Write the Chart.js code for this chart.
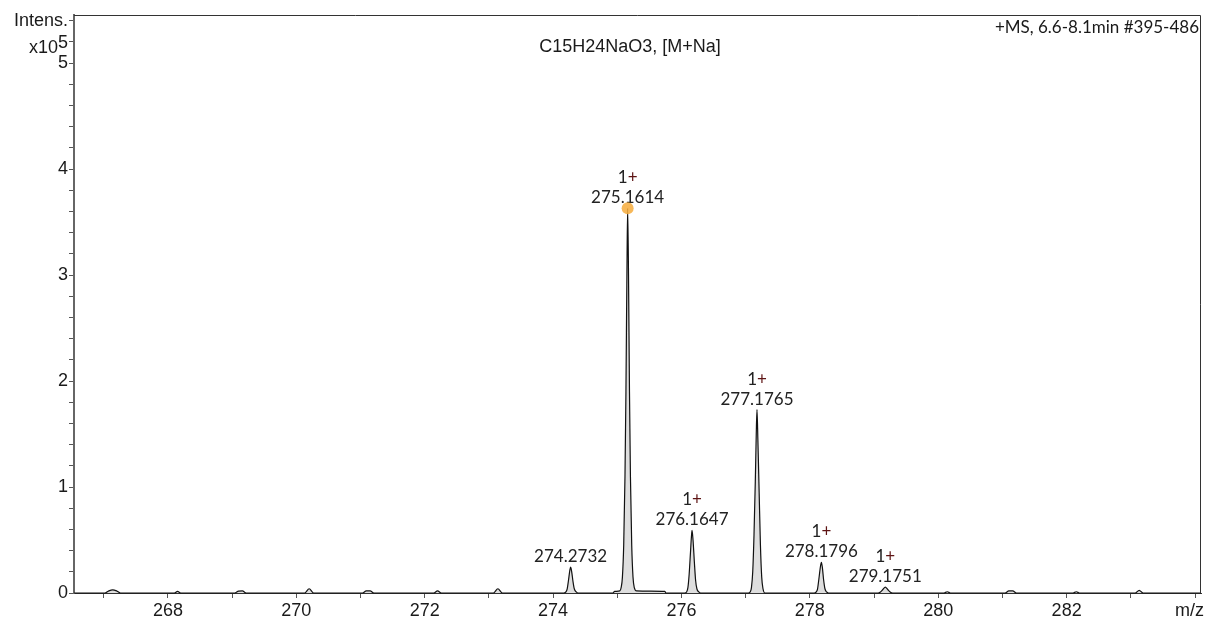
<!DOCTYPE html>
<html>
<head>
<meta charset="utf-8">
<script src="https://cdn.jsdelivr.net/npm/chart.js@4.4.1/dist/chart.umd.min.js"></script>
<style>
  html, body { margin: 0; padding: 0; background: #fff; }
  #wrap { width: 1207px; height: 621px; position: relative; }
</style>
</head>
<body>
<div id="wrap"><canvas id="spectrum"></canvas></div>
<script>
// labelled peaks: m/z, intensity (x10^5), charge note
const peakMz = [274.2732, 275.1614, 276.1647, 277.1765, 278.1796, 279.1751];
const peakHeight = [0.245, 3.63, 0.59, 1.73, 0.29, 0.055];
const peakCharge = ['', '1+', '1+', '1+', '1+', '1+'];

// profile points around the peaks (apexes come from the arrays above)
const profilePts = [
  [266.54, 0],
  [267.02, 0], [267.08, 0.02], [267.14, 0.03], [267.20, 0.02], [267.26, 0],
  [268.10, 0], [268.15, 0.015], [268.20, 0],
  [269.04, 0], [269.10, 0.018], [269.16, 0.02], [269.22, 0],
  [270.13, 0], [270.20, 0.04], [270.27, 0],
  [271.03, 0], [271.09, 0.02], [271.15, 0.02], [271.21, 0],
  [272.14, 0], [272.20, 0.02], [272.26, 0],
  [273.07, 0], [273.14, 0.04], [273.21, 0],
  [274.17, 0], [274.20, 0.01], [274.22, 0.04], [274.24, 0.12], [274.26, 0.21],
  [274.29, 0.2], [274.31, 0.11], [274.33, 0.04], [274.36, 0.01], [274.39, 0],
  [274.93, 0], [274.96, 0.015], [275.04, 0.02], [275.06, 0.05], [275.08, 0.15],
  [275.10, 0.45], [275.12, 1.1], [275.135, 1.9], [275.15, 3.0],
  [275.175, 3.0], [275.19, 1.9], [275.205, 1.1], [275.225, 0.45], [275.245, 0.15],
  [275.265, 0.05], [275.30, 0.02], [275.74, 0.015], [275.76, 0],
  [276.05, 0], [276.08, 0.01], [276.10, 0.05], [276.12, 0.18], [276.14, 0.38], [276.155, 0.53],
  [276.18, 0.5], [276.20, 0.3], [276.22, 0.12], [276.24, 0.04], [276.27, 0.01], [276.30, 0],
  [277.04, 0], [277.07, 0.01], [277.09, 0.05], [277.11, 0.2], [277.13, 0.55], [277.15, 1.05],
  [277.165, 1.5], [277.19, 1.45], [277.21, 0.95], [277.23, 0.45], [277.25, 0.15],
  [277.27, 0.04], [277.30, 0],
  [278.07, 0], [278.10, 0.01], [278.12, 0.04], [278.14, 0.13], [278.165, 0.25],
  [278.195, 0.24], [278.215, 0.12], [278.235, 0.04], [278.26, 0.01], [278.29, 0],
  [279.06, 0], [279.10, 0.01], [279.14, 0.035],
  [279.21, 0.035], [279.25, 0.01], [279.29, 0],
  [280.09, 0], [280.14, 0.012], [280.19, 0],
  [281.04, 0], [281.10, 0.02], [281.16, 0.02], [281.22, 0],
  [282.10, 0], [282.15, 0.012], [282.20, 0],
  [283.07, 0], [283.13, 0.025], [283.19, 0],
  [284.09, 0]
];

const basePeak = 1; // index of the marked base peak
const titleText = 'C15H24NaO3, [M+Na]';
const runText = '+MS, 6.6-8.1min #395-486';

const trace = profilePts.map(p => ({ x: p[0], y: p[1] }))
  .concat(peakMz.map((m, i) => ({ x: m, y: peakHeight[i] })))
  .sort((a, b) => a.x - b.x);

const textFont = '18px "Liberation Sans", Arial, sans-serif';
const noteFont = '17px Lato, "Open Sans", sans-serif';

const spectrumDecor = {
  id: 'spectrumDecor',
  beforeDatasetsDraw(chart) {
    const ctx = chart.ctx;
    const xs = chart.scales.x, ys = chart.scales.y;
    ctx.save();
    ctx.font = noteFont;
    ctx.textAlign = 'center';
    ctx.textBaseline = 'alphabetic';
    peakMz.forEach((m, i) => {
      const px = xs.getPixelForValue(m);
      const py = ys.getPixelForValue(peakHeight[i]);
      ctx.fillStyle = '#222';
      ctx.fillText(m.toFixed(4), px, py - 5);
      if (peakCharge[i]) {
        // "1" dark, "+" dark red
        const w1 = ctx.measureText('1').width;
        const w2 = ctx.measureText('+').width;
        const x0 = px - (w1 + w2) / 2;
        ctx.textAlign = 'left';
        ctx.fillText('1', x0, py - 25);
        ctx.fillStyle = '#5e1414';
        ctx.fillText('+', x0 + w1, py - 25);
        ctx.textAlign = 'center';
      }
    });
    ctx.restore();
  },
  afterDraw(chart) {
    const ctx = chart.ctx;
    const a = chart.chartArea;
    const ys = chart.scales.y;
    ctx.save();
    // frame top and right
    ctx.strokeStyle = '#333';
    ctx.lineWidth = 1;
    ctx.beginPath();
    ctx.moveTo(a.left, a.top + 0.5);
    ctx.lineTo(a.right - 0.5, a.top + 0.5);
    ctx.lineTo(a.right - 0.5, a.bottom);
    ctx.stroke();

    // axis unit label x10^5
    const ty = ys.getPixelForValue(5.2);
    ctx.fillStyle = '#1a1a1a';
    ctx.font = textFont;
    ctx.textAlign = 'right';
    ctx.textBaseline = 'alphabetic';
    const w5 = ctx.measureText('5').width;
    ctx.fillText('5', 68, ty + 6);
    ctx.fillText('x10', 68 - w5, ty + 11);

    // x axis unit, tucked left of the last tick
    ctx.fillText('m/z', 1204, 616);

    // title
    ctx.textAlign = 'center';
    ctx.fillText(titleText, 630, 52);

    // run info
    ctx.font = noteFont;
    ctx.textAlign = 'right';
    ctx.fillText(runText, 1199, 33);
    ctx.restore();
  }
};

new Chart(document.getElementById('spectrum'), {
  type: 'line',
  data: {
    datasets: [{
      data: [{ x: peakMz[basePeak], y: peakHeight[basePeak] }],
      showLine: false,
      pointRadius: 6,
      pointHoverRadius: 6,
      pointBackgroundColor: 'rgba(246, 172, 60, 0.85)',
      pointBorderWidth: 0,
      clip: 10
    }, {
      data: trace,
      borderColor: '#111',
      borderWidth: 1.2,
      backgroundColor: '#dedede',
      fill: 'origin',
      pointRadius: 0,
      cubicInterpolationMode: 'monotone',
      clip: 4
    }]
  },
  options: {
    responsive: true,
    maintainAspectRatio: false,
    animation: false,
    layout: { padding: { top: 15, right: 5, left: 0, bottom: 0 } },
    plugins: { legend: { display: false }, tooltip: { enabled: false } },
    scales: {
      x: {
        type: 'linear',
        min: 266.537,
        max: 284.093,
        afterBuildTicks: (axis) => {
          axis.ticks = [];
          for (let v = 267; v <= 284; v++) axis.ticks.push({ value: v });
        },
        afterFit: (s) => { s.height = 28; s.paddingLeft = 0; s.paddingRight = 0; },
        ticks: {
          autoSkip: false,
          maxRotation: 0,
          padding: 2,
          color: '#1a1a1a',
          font: { family: '"Liberation Sans", Arial, sans-serif', size: 18 },
          callback: (v) => (v % 2 === 0 && v < 284) ? String(v) : ''
        },
        grid: { drawOnChartArea: false, color: '#555', tickLength: 5 },
        border: { color: '#333', width: 1 }
      },
      y: {
        min: 0,
        max: 5.453,
        afterBuildTicks: (axis) => {
          axis.ticks = [];
          for (let i = 0; i <= 27; i++) axis.ticks.push({ value: i * 2 / 10 });
        },
        afterFit: (s) => { s.width = 74; s.paddingTop = 0; s.paddingBottom = 0; },
        ticks: {
          autoSkip: false,
          padding: 1,
          color: '#1a1a1a',
          font: { family: '"Liberation Sans", Arial, sans-serif', size: 18 },
          callback: (v) => {
            const r = Math.round(v * 10) / 10;
            if (r === 5.4) return 'Intens.';
            return Number.isInteger(r) ? String(r) : '';
          }
        },
        grid: { drawOnChartArea: false, color: '#555', tickLength: 5 },
        border: { color: '#666', width: 2 }
      }
    }
  },
  plugins: [spectrumDecor]
});
</script>
</body>
</html>
